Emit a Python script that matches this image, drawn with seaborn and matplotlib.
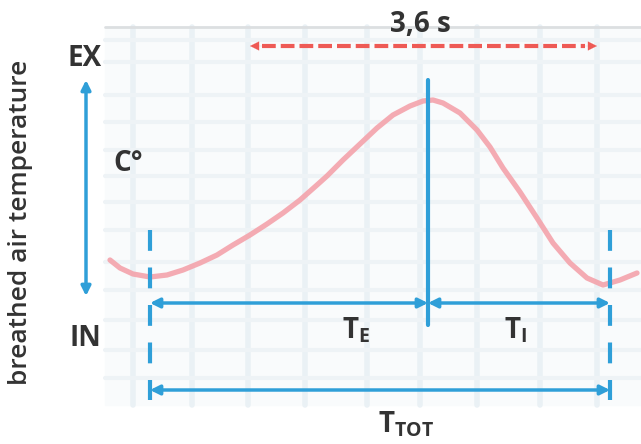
import numpy as np
import pandas as pd
import matplotlib
matplotlib.use("Agg")
import matplotlib.pyplot as plt
import seaborn as sns

# ---- data (diagram units) ----
curve_t = [110, 120, 133, 150, 167, 183, 200, 217, 233, 250, 267, 283, 300, 317,
           327, 343, 360, 377, 393, 410, 423, 433, 443, 460, 477, 490, 503, 520,
           537, 553, 570, 587, 603, 620, 637]
curve_temp = [260, 268, 274, 277, 275, 270, 263, 255, 245, 235, 224, 213, 200, 185,
              176, 160, 144, 128, 115, 106, 101, 100, 103, 113, 130, 147, 168, 192,
              218, 243, 263, 278, 285, 280, 273]

cycle_start = 150
peak_time = 428
cycle_end = 610
span_start = 250
span_end = 597

grid_x = [133, 192, 248, 305, 367, 420, 477, 540, 597]
grid_y = [40, 62, 95, 122, 150, 176, 202, 230, 262, 290, 320, 350, 378]

labels = {"span": "3,6 s", "ex": "EX", "in": "IN", "unit": "C°",
          "ylabel": "breathed air temperature"}

sns.set_theme(style="white")
plt.rcParams['font.family'] = ['Open Sans', 'DejaVu Sans']

BLUE = "#2f9fd8"
RED = "#ee5a55"
PINK = "#f4a3ab"
TXT = "#333333"

fig = plt.figure(figsize=(6.41, 4.44), dpi=100)
ax = fig.add_axes([0, 0, 1, 1])

# background grid area
ax.add_patch(plt.Rectangle((105, 27), 536, 378, color="#f9fbfc", zorder=0))
for gx in grid_x:
    ax.plot([gx, gx], [27, 405], color="#eaf1f5", lw=4, zorder=0.5)
for gy in grid_y:
    ax.plot([105, 641], [gy, gy], color="#eef3f6", lw=3, zorder=0.5)
ax.plot([105, 641], [27, 27], color="#dcdfe1", lw=2, zorder=0.6)

# temperature curve
df = pd.DataFrame({"t": curve_t, "temp": curve_temp})
sns.lineplot(data=df, x="t", y="temp", ax=ax, color=PINK, lw=3.8, alpha=0.9,
             sort=False, zorder=2, solid_joinstyle="round", solid_capstyle="round")
ax.set_xlim(0, 641)
ax.set_ylim(444, 0)
ax.axis("off")

# vertical markers
ax.plot([cycle_start, cycle_start], [230, 400], color=BLUE, lw=3, ls=(0, (5, 4)), zorder=3)
ax.plot([cycle_end, cycle_end], [230, 400], color=BLUE, lw=3, ls=(0, (5, 4)), zorder=3)
ax.plot([peak_time, peak_time], [80, 325], color=BLUE, lw=3, zorder=3)

arrow_kw = dict(arrowstyle="<|-|>", color=BLUE, lw=2.5, mutation_scale=14,
                shrinkA=0, shrinkB=0)
ax.annotate("", xy=(cycle_start, 303), xytext=(peak_time, 303), arrowprops=arrow_kw, zorder=3)
ax.annotate("", xy=(peak_time, 303), xytext=(cycle_end, 303), arrowprops=arrow_kw, zorder=3)
ax.annotate("", xy=(cycle_start, 390), xytext=(cycle_end, 390), arrowprops=arrow_kw, zorder=3)
ax.annotate("", xy=(86, 80), xytext=(86, 296), arrowprops=arrow_kw, zorder=3)

# red span arrow
ax.plot([span_start + 12, span_end - 12], [46, 46], color=RED, lw=3, ls=(0, (3.3, 1.2)), zorder=3)
for tip, tail in [(span_start, span_start + 14), (span_end, span_end - 14)]:
    ax.annotate("", xy=(tip, 46), xytext=(tail, 46),
                arrowprops=dict(arrowstyle="-|>", color=RED, lw=0.1, mutation_scale=16,
                                shrinkA=0, shrinkB=0))

# texts
tk = dict(color=TXT, fontweight="bold", ha="center", va="center")
ax.text(420, 24, labels["span"], fontsize=20, **tk)
ax.text(85, 58, labels["ex"], fontsize=20, **tk)
ax.text(85, 338, labels["in"], fontsize=20, **tk)
ax.text(128, 163, labels["unit"], fontsize=20, **tk)
ax.text(21, 222, labels["ylabel"], fontsize=19, rotation=90,
        **{**tk, "fontweight": "semibold"})
ax.text(356, 330, r"T$_\mathregular{E}$", fontsize=20, **tk)
ax.text(516, 330, r"T$_\mathregular{I}$", fontsize=20, **tk)
ax.text(406, 424, r"T$_\mathregular{TOT}$", fontsize=20, **tk)

fig.savefig("out.png", dpi=100)
